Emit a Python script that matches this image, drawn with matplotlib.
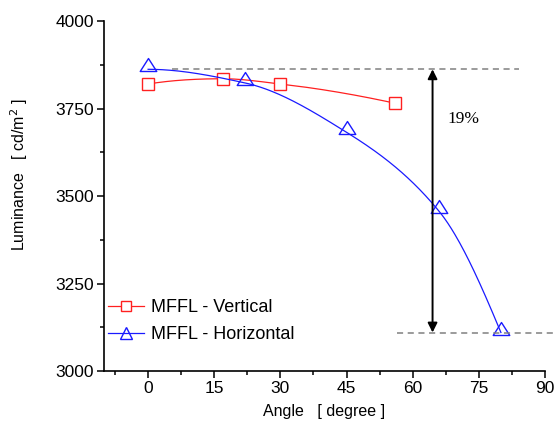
import numpy as np
import matplotlib
matplotlib.use("Agg")
import matplotlib.pyplot as plt
from matplotlib.path import Path
from matplotlib.ticker import MultipleLocator

plt.rcParams['font.family'] = ['Liberation Sans', 'DejaVu Sans']

# Measured luminance vs viewing angle
vert_angle = [0, 17, 30, 56]
vert_lum = [3820, 3835, 3820, 3765]
horz_angle = [0, 22, 45, 66, 80]
horz_lum = [3862, 3823, 3682, 3456, 3110]

arrow_angle = 64.5
drop_label = "19%"


def pchip_curve(x, y, n=300):
    """Shape-preserving piecewise cubic (PCHIP) through the points."""
    x = np.asarray(x, float)
    y = np.asarray(y, float)
    h = np.diff(x)
    delta = np.diff(y) / h
    k = len(x)
    d = np.zeros(k)
    for i in range(1, k - 1):
        if delta[i - 1] * delta[i] > 0:
            w1 = 2 * h[i] + h[i - 1]
            w2 = h[i] + 2 * h[i - 1]
            d[i] = (w1 + w2) / (w1 / delta[i - 1] + w2 / delta[i])

    def end(h0, h1, d0, d1):
        v = ((2 * h0 + h1) * d0 - h0 * d1) / (h0 + h1)
        if np.sign(v) != np.sign(d0):
            return 0.0
        if np.sign(d0) != np.sign(d1) and abs(v) > abs(3 * d0):
            return 3 * d0
        return v

    d[0] = end(h[0], h[1], delta[0], delta[1])
    d[-1] = end(h[-1], h[-2], delta[-1], delta[-2])
    xs = np.linspace(x[0], x[-1], n)
    idx = np.clip(np.searchsorted(x, xs) - 1, 0, k - 2)
    t = (xs - x[idx]) / h[idx]
    h00 = 2 * t**3 - 3 * t**2 + 1
    h10 = t**3 - 2 * t**2 + t
    h01 = -2 * t**3 + 3 * t**2
    h11 = t**3 - t**2
    ys = (h00 * y[idx] + h10 * h[idx] * d[idx]
          + h01 * y[idx + 1] + h11 * h[idx] * d[idx + 1])
    return xs, ys


# open triangle anchored near its base
tri = Path([(0, 11), (-8.3, -2), (8.3, -2), (0, 11)],
           [Path.MOVETO, Path.LINETO, Path.LINETO, Path.CLOSEPOLY])

fig = plt.figure(figsize=(5.55, 4.26), dpi=100)
ax = fig.add_axes([0.1874, 0.1291, 0.7946, 0.8216])

red = '#ff2020'
blue = '#1a1aff'

xs, ys = pchip_curve(vert_angle, vert_lum)
ax.plot(xs, ys, color=red, lw=0.9)
ax.plot(vert_angle, vert_lum, ls='none', marker='s', ms=8.5, mfc='white',
        mec=red, mew=1.0)
xs, ys = pchip_curve(horz_angle, horz_lum)
ax.plot(xs, ys, color=blue, lw=0.9)
ax.plot(horz_angle, horz_lum, ls='none', marker=tri, ms=15.8, mfc='none',
        mec=blue, mew=1.0)

# legend proxies
ax.plot([], [], color=red, lw=0.9, marker='s', ms=7, mfc='white', mec=red,
        label='MFFL - Vertical')
ax.plot([], [], color=blue, lw=0.9, marker='^', ms=8, mfc='none', mec=blue,
        label='MFFL - Horizontal')
ax.legend(loc='upper left', bbox_to_anchor=(0.009, 0.205), frameon=False,
          fontsize=13, handlelength=2.0, handletextpad=0.38, labelspacing=0.55,
          borderaxespad=0, borderpad=0)

# levels at 0 and 80 degrees with the drop between them
top_level = horz_lum[0]
bottom_level = horz_lum[-1]
ax.plot([5.5, 84], [top_level, top_level], ls=(0, (4, 3)), color='#808080', lw=1.1)
ax.plot([56.5, 95], [bottom_level, bottom_level], ls=(0, (4, 3)), color='#808080',
        lw=1.1, clip_on=False)
ax.annotate('', xy=(arrow_angle, top_level), xytext=(arrow_angle, bottom_level),
            arrowprops=dict(arrowstyle='<|-|>', color='black', lw=1.4,
                            mutation_scale=14, shrinkA=0, shrinkB=0))
ax.text(71.6, 3720, drop_label, family=['Liberation Serif', 'DejaVu Serif'],
        fontsize=12.5, ha='center', va='center')

ax.set_xlim(-10, 90)
ax.set_ylim(3000, 4000)
ax.xaxis.set_major_locator(MultipleLocator(15))
ax.xaxis.set_minor_locator(MultipleLocator(7.5))
ax.yaxis.set_major_locator(MultipleLocator(250))
ax.yaxis.set_minor_locator(MultipleLocator(125))
ax.set_xticks([0, 15, 30, 45, 60, 75, 90])

for s in ('top', 'right'):
    ax.spines[s].set_visible(False)
for s in ('left', 'bottom'):
    ax.spines[s].set_linewidth(1.2)
ax.tick_params(which='major', direction='out', length=5, width=1.1,
               labelsize=12.5, pad=2)
ax.tick_params(which='minor', direction='out', length=3, width=1.1)

ax.set_xlabel('Angle   [ degree ]', fontsize=11.5, labelpad=6)
ax.set_ylabel('Luminance   [ cd/m$^2$ ]', fontsize=11.5)
ax.yaxis.set_label_coords(-0.168, 0.56)

fig.savefig('out.png', dpi=100)
